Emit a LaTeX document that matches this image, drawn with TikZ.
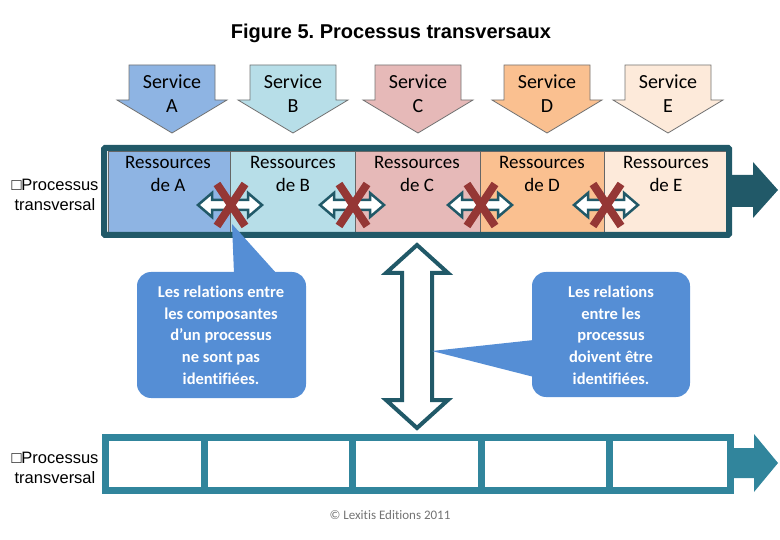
\documentclass[tikz,border=0pt]{standalone}
\usepackage{fontspec}
\setmainfont[Ligatures=NoCommon]{Carlito}
\newfontfamily\arialfont{Liberation Sans}
\usetikzlibrary{positioning}
\frenchspacing
\definecolor{darkteal}{HTML}{215968}
\definecolor{midteal}{HTML}{31859C}
\definecolor{cellA}{HTML}{8EB4E3}
\definecolor{cellB}{HTML}{B7DEE8}
\definecolor{cellC}{HTML}{E6B9B8}
\definecolor{cellD}{HTML}{FAC090}
\definecolor{cellE}{HTML}{FDEADA}
\definecolor{crossred}{HTML}{953735}
\definecolor{noteblue}{HTML}{558ED5}

\begin{document}
\begin{tikzpicture}[x=1pt, y=-1pt,
        % Global font for the boxes
        font=\fontsize{19}{23}\selectfont,
        % Reusable styles for the parts of the figure
        title/.style={font=\arialfont\bfseries\fontsize{20}{24}\selectfont},
        side/.style={font=\arialfont\fontsize{16.5}{20}\selectfont, align=center},
        box/.style={align=center, inner sep=0pt},
        note/.style={align=center, inner sep=0pt, text=white, font=\bfseries\fontsize{16.5}{21.7}\selectfont},
        service/.style={draw=black!55, line width=0.8pt},
        bar/.style={draw=darkteal, line width=6pt, rounded corners=1pt},
        link/.style={draw=darkteal, fill=white, line width=2.5pt},
        cross/.style={draw=crossred, line width=8pt}
    ]
    \useasboundingbox (0,0) rectangle (780,540);

    \node[title] (title) at (391,33) {Figure 5. Processus transversaux};

    % Services
    \foreach \cx/\col/\s in {172/cellA/A, 293/cellB/B, 418/cellC/C, 547/cellD/D, 668/cellE/E} {
        \filldraw[service, fill=\col] (\cx-43,65) -- (\cx+43,65) -- (\cx+43,100) -- (\cx+55,100)
            -- (\cx,133) -- (\cx-55,100) -- (\cx-43,100) -- cycle;
        \node[box, font=\fontsize{20}{24}\selectfont] (srv\s) at (\cx,94) {Service\\\s};
    }

    % Upper process: resources
    \foreach \xa/\xb/\col/\s/\cx in {108/230/cellA/A/168, 230/355/cellB/B/293, 355/480/cellC/C/417,
            480/604/cellD/D/542, 604/726/cellE/E/666} {
        \filldraw[fill=\col, draw=black!60, line width=0.6pt] (\xa,151) rectangle (\xb,232);
        \node[box] (res\s) at (\cx,173.5) {Ressources\\de \s};
    }
    \draw[bar] (104,148) rectangle (729,235);
    \fill[darkteal] (729,175) -- (753,175) -- (753,162) -- (778,190) -- (753,218) -- (753,207) -- (729,207) -- cycle;
    \node[side] (procTop) at (55,195) {□Processus\\transversal};

    % Links between the resources
    \foreach \xb in {230,352,480,606} {
        \draw[link] (\xb-32,205) -- ++(14,-12) -- ++(0,7) -- ++(36,0) -- ++(0,-7) -- ++(14,12)
            -- ++(-14,12) -- ++(0,-7) -- ++(-36,0) -- ++(0,7) -- cycle;
        \draw[cross] (\xb-13,184) -- (\xb+15,226) (\xb+15,184) -- (\xb-13,226);
    }

    % Link between the processes
    \draw[link, line width=4pt] (417,245) -- (448,273) -- (432,273) -- (432,400) -- (448,400)
        -- (417,428) -- (386,400) -- (402,400) -- (402,273) -- (386,273) -- cycle;

    % Callouts
    \fill[noteblue, rounded corners=14pt] (137,272) rectangle (306,398);
    \fill[noteblue] (234,274) -- (232,224) -- (277,274) -- cycle;
    \node[note] (noteA) at (221,335) {Les relations entre\\les composantes\\d’un processus\\ne sont pas\\identifiées.};

    \fill[noteblue, rounded corners=14pt] (532,272) rectangle (690,397);
    \fill[noteblue] (534,340) -- (432,351) -- (534,377) -- cycle;
    \node[note] (noteB) at (611,335) {Les relations\\entre les\\processus\\doivent être\\identifiées.};

    % Lower process
    \draw[midteal, line width=7pt] (105.5,437.5) rectangle (730.5,490.5);
    \foreach \xd in {204,352,481,609} {
        \draw[midteal, line width=7pt] (\xd,437) -- (\xd,491);
    }
    \fill[midteal] (730,448) -- (754,448) -- (754,434) -- (778,463) -- (754,492) -- (754,478) -- (730,478) -- cycle;
    \node[side] (procBot) at (55,468) {□Processus\\transversal};

    \node[font=\fontsize{13}{15}\selectfont, text=black!55] (copy) at (390,515) {© Lexitis Editions 2011};
\end{tikzpicture}
\end{document}
